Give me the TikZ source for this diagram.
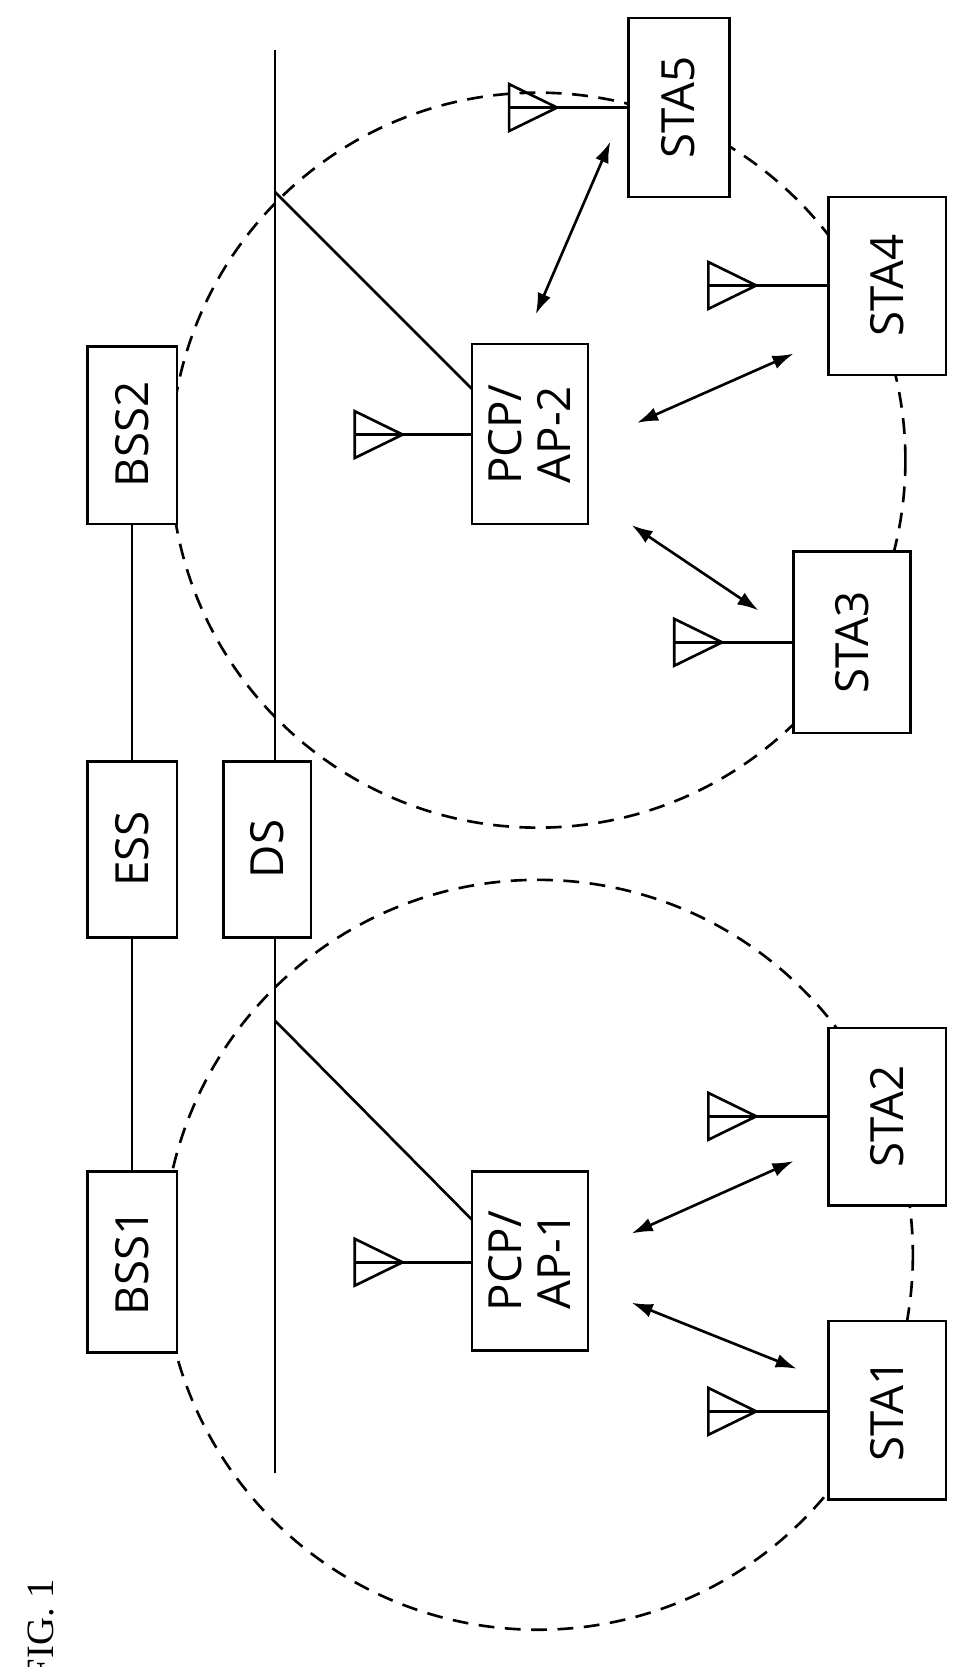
\documentclass[tikz,border=0pt]{standalone}
\usepackage{fontspec}
\usetikzlibrary{arrows.meta}
\setmainfont{Open Sans}
\newfontfamily\figfont{Liberation Serif}
\begin{document}
\begin{tikzpicture}[x=0.0213cm,y=-0.0213cm,
  lbl/.style={font=\fontsize{26}{30}\selectfont,rotate=90,align=center},
  ln/.style={line width=1.5pt},
  arr/.style={line width=1.5pt,{Latex[length=12pt,width=8pt]}-{Latex[length=12pt,width=8pt]}},
  dsh/.style={line width=1.5pt,dash pattern=on 9pt off 6pt}]
\useasboundingbox (0,0) rectangle (908,1565);
\draw[dsh] (505,432) circle (345);
\draw[dsh] (505,1178) circle (352);
\draw[ln] (258,47) -- (258,1383);
\draw[ln,fill=white] (82,325) rectangle (166,492); \node[lbl] (bss2) at (124,408) {BSS2};
\draw[ln,fill=white] (82,715) rectangle (166,880); \node[lbl] (ess) at (124,797) {ESS};
\draw[ln,fill=white] (82,1100) rectangle (166,1270); \node[lbl] (bss1) at (124,1185) {BSS1};
\draw[ln,fill=white] (210,715) rectangle (292,880); \node[lbl] (ds) at (251,797) {DS};
\draw[ln] (124,492) -- (124,715) (124,880) -- (124,1100);
\draw[ln,fill=white] (443,323) rectangle (552,492); \node[lbl,font=\fontsize{26}{28}\selectfont] (ap2) at (497,408) {PCP/\\AP-2};
\draw[ln,fill=white] (443,1100) rectangle (552,1268); \node[lbl,font=\fontsize{26}{28}\selectfont] (ap1) at (497,1184) {PCP/\\AP-1};
\draw[ln] (258,180) -- (443,365);
\draw[ln] (258,958) -- (443,1145);
\draw[ln,fill=white] (590,17) rectangle (685,185); \node[lbl] (sta5) at (637,101) {STA5};
\draw[ln,fill=white] (778,185) rectangle (888,352); \node[lbl] (sta4) at (833,268) {STA4};
\draw[ln,fill=white] (745,518) rectangle (855,688); \node[lbl] (sta3) at (800,603) {STA3};
\draw[ln,fill=white] (778,965) rectangle (888,1132); \node[lbl] (sta2) at (833,1048) {STA2};
\draw[ln,fill=white] (778,1240) rectangle (888,1408); \node[lbl] (sta1) at (833,1324) {STA1};
\newcommand\ant[3]{\draw[ln] (#1,#3-22) -- (#1+45,#3) -- (#1,#3+22) -- cycle; \draw[ln] (#1,#3) -- (#2,#3);}
\ant{333}{443}{408}
\ant{333}{443}{1185}
\ant{478}{590}{101}
\ant{665}{778}{268}
\ant{633}{745}{603}
\ant{665}{778}{1048}
\ant{665}{778}{1325}
\draw[arr] (503,295) -- (573,133);
\draw[arr] (598,397) -- (745,332);
\draw[arr] (593,493) -- (712,573);
\draw[arr] (593,1158) -- (745,1090);
\draw[arr] (593,1223) -- (748,1285);
\node[rotate=90,font=\figfont\fontsize{22}{24}\selectfont] (fig) at (38,1530) {FIG. 1};
\end{tikzpicture}
\end{document}
